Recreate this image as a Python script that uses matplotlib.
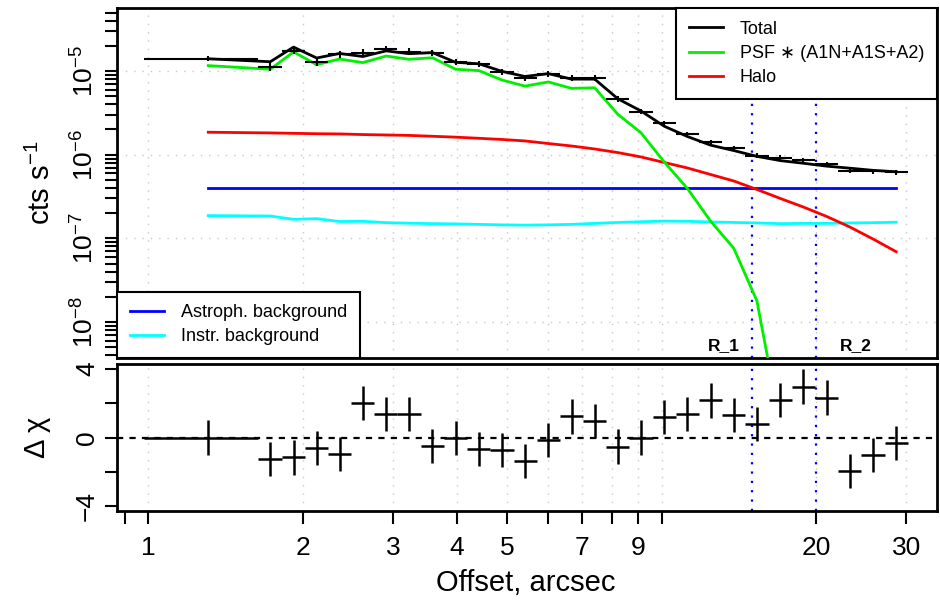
import matplotlib
matplotlib.use("Agg")
import matplotlib.pyplot as plt
import numpy as np
from matplotlib.lines import Line2D
from matplotlib.ticker import FixedLocator, NullFormatter, LogLocator

plt.rcParams['font.family'] = ['Liberation Sans', 'DejaVu Sans']
plt.rcParams['mathtext.fontset'] = 'custom'
plt.rcParams['mathtext.rm'] = 'Liberation Sans'
plt.rcParams['mathtext.it'] = 'Liberation Sans:italic'

# ---------------- data ----------------
x_lo = [0.98, 1.64, 1.82, 2.02, 2.24, 2.49, 2.76, 3.06, 3.40, 3.77, 4.18, 4.64, 5.15, 5.71,
        6.34, 7.03, 7.80, 8.66, 9.61, 10.66, 11.83, 13.13, 14.57, 16.16, 17.93, 19.90, 22.08,
        24.50, 27.19]
x_mid = [1.31, 1.73, 1.92, 2.13, 2.36, 2.62, 2.91, 3.22, 3.58, 3.97, 4.41, 4.89, 5.42, 6.02,
         6.68, 7.41, 8.22, 9.12, 10.12, 11.23, 12.46, 13.83, 15.34, 17.03, 18.89, 20.96, 23.26,
         25.81, 28.64]
x_hi = [1.64, 1.82, 2.02, 2.24, 2.49, 2.76, 3.06, 3.40, 3.77, 4.18, 4.64, 5.15, 5.71, 6.34,
        7.03, 7.80, 8.66, 9.61, 10.66, 11.83, 13.13, 14.57, 16.16, 17.93, 19.90, 22.08, 24.50,
        27.19, 30.16]

counts = [1.40e-5, 1.12e-5, 1.75e-5, 1.29e-5, 1.58e-5, 1.65e-5, 1.83e-5, 1.70e-5, 1.63e-5,
          1.27e-5, 1.20e-5, 9.8e-6, 8.2e-6, 9.2e-6, 8.3e-6, 8.2e-6, 4.6e-6, 3.27e-6, 2.37e-6,
          1.75e-6, 1.41e-6, 1.19e-6, 9.7e-7, 9.2e-7, 8.6e-7, 7.7e-7, 6.4e-7, 6.3e-7, 6.2e-7]
err_dex = [0.03, 0.05, 0.045, 0.045, 0.04, 0.04, 0.04, 0.04, 0.035, 0.035, 0.035, 0.035, 0.035,
           0.035, 0.035, 0.035, 0.035, 0.03, 0.03, 0.03, 0.03, 0.03, 0.03, 0.03, 0.03, 0.03,
           0.03, 0.03, 0.03]

total = [1.40e-5, 1.29e-5, 1.93e-5, 1.43e-5, 1.62e-5, 1.49e-5, 1.74e-5, 1.61e-5, 1.66e-5,
         1.27e-5, 1.22e-5, 9.9e-6, 8.6e-6, 9.3e-6, 8.0e-6, 8.0e-6, 4.66e-6, 3.33e-6, 2.19e-6,
         1.65e-6, 1.30e-6, 1.12e-6, 9.55e-7, 8.5e-7, 7.9e-7, 7.3e-7, 6.9e-7, 6.5e-7, 6.25e-7]
psf = [1.16e-5, 1.05e-5, 1.69e-5, 1.19e-5, 1.39e-5, 1.26e-5, 1.51e-5, 1.38e-5, 1.44e-5,
       1.05e-5, 1.01e-5, 7.8e-6, 6.6e-6, 7.4e-6, 6.2e-6, 6.3e-6, 3.04e-6, 1.83e-6, 8.2e-7,
       3.95e-7, 1.61e-7, 7.6e-8, 1.79e-8, 6e-10, 1e-11, 1e-12, 1e-13, 1e-14, 1e-15]
halo = [1.855e-6, 1.82e-6, 1.80e-6, 1.78e-6, 1.77e-6, 1.74e-6, 1.72e-6, 1.70e-6, 1.66e-6,
        1.62e-6, 1.57e-6, 1.52e-6, 1.46e-6, 1.36e-6, 1.27e-6, 1.17e-6, 1.06e-6, 9.4e-7, 8.07e-7,
        6.94e-7, 5.80e-7, 4.85e-7, 3.84e-7, 3.00e-7, 2.37e-7, 1.83e-7, 1.37e-7, 9.84e-8, 6.93e-8]
astro_bkg = [4.0e-7] * 29
instr_bkg = [1.87e-7, 1.85e-7, 1.69e-7, 1.72e-7, 1.59e-7, 1.60e-7, 1.54e-7, 1.52e-7, 1.50e-7,
             1.49e-7, 1.47e-7, 1.45e-7, 1.44e-7, 1.45e-7, 1.47e-7, 1.51e-7, 1.55e-7, 1.58e-7,
             1.61e-7, 1.60e-7, 1.57e-7, 1.55e-7, 1.53e-7, 1.50e-7, 1.51e-7, 1.51e-7, 1.53e-7,
             1.54e-7, 1.56e-7]

resid = [0.0, -1.25, -1.17, -0.62, -0.95, 2.0, 1.37, 1.37, -0.49, -0.04, -0.68, -0.72, -1.36,
         -0.13, 1.23, 0.98, -0.53, 0.0, 1.19, 1.39, 2.17, 1.33, 0.78, 2.2, 2.98, 2.34, -1.95,
         -1.01, -0.33]
resid_err = [1.0] * 29

r_lines = [15.0, 20.0]
r_labels = ['R_1', 'R_2']
r_label_x = [13.2, 23.9]

x_ticks = [0.9, 1, 2, 3, 4, 5, 6, 7, 8, 9, 10, 20, 30]
x_ticklabels = ['', '1', '2', '3', '4', '5', '', '7', '', '9', '', '20', '30']
x_grid = [1, 2, 3, 4, 5, 6, 7, 8, 9, 10, 20, 30]
y1_ticks = [1e-8, 1e-7, 1e-6, 1e-5]
y1_ticklabels = [r'$10^{-8}$', r'$10^{-7}$', r'$10^{-6}$', r'$10^{-5}$']
y2_ticks = [-4, -2, 0, 2, 4]
y2_ticklabels = ['\u22124', '', '0', '', '4']

# ---------------- figure ----------------
W, H = 940, 602
fig = plt.figure(figsize=(W / 100, H / 100), dpi=100)


def px_axes(l, t, r, b):
    return fig.add_axes([l / W, 1 - b / H, (r - l) / W, (b - t) / H])


ax1 = px_axes(117, 8, 937, 358)
ax2 = px_axes(117, 364, 937, 511)

xlim = (0.87, 34.4)
grid_kw = dict(color='#c8c8c8', lw=1.0, ls=(0, (1, 5)), zorder=0)
rline_kw = dict(color='#0000ff', lw=1.6, ls=(0, (1, 3.2)), zorder=1)

# top panel
ax1.set_xscale('log')
ax1.set_yscale('log')
for v in x_grid:
    ax1.axvline(v, **grid_kw)
for v in y1_ticks:
    ax1.axhline(v, **grid_kw)
for v in r_lines:
    ax1.axvline(v, **rline_kw)

ax1.plot(x_mid, instr_bkg, color='#00ffff', lw=2.0, zorder=3)
ax1.plot(x_mid, astro_bkg, color='#0000ff', lw=2.0, zorder=3)
ax1.plot(x_mid, halo, color='#ff0000', lw=2.0, zorder=3)
ax1.plot(x_mid, psf, color='#00ee00', lw=2.0, zorder=3)
ax1.plot(x_mid, total, color='black', lw=2.0, zorder=4)

xm = np.array(x_mid)
cnt = np.array(counts)
ed = np.array(err_dex)
ax1.errorbar(xm, cnt, xerr=[xm - np.array(x_lo), np.array(x_hi) - xm],
             yerr=[cnt - cnt * 10 ** (-ed), cnt * 10 ** ed - cnt],
             fmt='none', ecolor='black', elinewidth=1.5, capsize=0, zorder=5)

ax1.set_xlim(*xlim)
ax1.set_ylim(3.72e-9, 5.66e-5)
ax1.yaxis.set_major_locator(FixedLocator(y1_ticks))
ax1.set_yticklabels(y1_ticklabels, rotation=90, va='center')
ax1.yaxis.set_minor_locator(LogLocator(base=10, subs=list(range(2, 10))))
ax1.yaxis.set_minor_formatter(NullFormatter())
ax1.tick_params(axis='x', which='both', bottom=False, labelbottom=False)
ax1.tick_params(axis='y', which='major', length=9, width=1.5, labelsize=19, pad=4)
ax1.tick_params(axis='y', which='minor', length=9, width=1.5)
ax1.set_ylabel(r'cts s$^{-1}$', fontsize=21)
ax1.yaxis.set_label_coords(-0.074, 0.5)

for xv, lab in zip(r_label_x, r_labels):
    ax1.text(xv, 5.3e-9, lab, ha='center', va='center', fontsize=12.5, fontweight='bold', zorder=6)

leg_kw = dict(borderaxespad=0, fancybox=False, edgecolor='black', framealpha=1, fontsize=13,
              handlelength=1.9, handletextpad=0.95, labelspacing=0.4, borderpad=0.7)

leg1_handles = [Line2D([], [], color='black', lw=2.0),
                Line2D([], [], color='#00ee00', lw=2.0),
                Line2D([], [], color='#ff0000', lw=2.0)]
leg1 = ax1.legend(leg1_handles, ['Total', 'PSF \u2217 (A1N+A1S+A2)', 'Halo'],
                  loc='upper right', bbox_to_anchor=(1, 1), **leg_kw)
leg1.get_frame().set_linewidth(1.5)
leg1.set_zorder(10)
ax1.add_artist(leg1)

leg2_handles = [Line2D([], [], color='#0000ff', lw=2.0),
                Line2D([], [], color='#00ffff', lw=2.0)]
leg2 = ax1.legend(leg2_handles, ['Astroph. background', 'Instr. background'],
                  loc='lower left', bbox_to_anchor=(0, 0), **leg_kw)
leg2.get_frame().set_linewidth(1.5)
leg2.set_zorder(10)

# bottom panel
ax2.set_xscale('log')
for v in x_grid:
    ax2.axvline(v, **grid_kw)
for v in r_lines:
    ax2.axvline(v, **rline_kw)
ax2.axhline(0, color='black', lw=1.6, ls=(0, (2.8, 2.8)), zorder=2)
ax2.errorbar(xm, resid, xerr=[xm - np.array(x_lo), np.array(x_hi) - xm], yerr=resid_err,
             fmt='none', ecolor='black', elinewidth=1.8, capsize=0, zorder=5)
ax2.set_xlim(*xlim)
ax2.set_ylim(-4.3, 4.3)
ax2.xaxis.set_major_locator(FixedLocator(x_ticks))
ax2.set_xticklabels(x_ticklabels)
ax2.xaxis.set_minor_locator(FixedLocator([]))
ax2.yaxis.set_major_locator(FixedLocator(y2_ticks))
ax2.set_yticklabels(y2_ticklabels, rotation=90, va='center')
ax2.tick_params(axis='x', which='major', length=9, width=1.5, labelsize=19, pad=9)
ax2.tick_params(axis='y', which='major', length=9, width=1.5, labelsize=19, pad=4)
ax2.set_ylabel('\u0394 \u03c7', fontsize=21)
ax2.yaxis.set_label_coords(-0.081, 0.5)

for ax in (ax1, ax2):
    for s in ax.spines.values():
        s.set_linewidth(2.0)

fig.text(526 / W, 1 - 583 / H, 'Offset, arcsec', ha='center', va='center', fontsize=21)

fig.savefig('out.png', dpi=100)
